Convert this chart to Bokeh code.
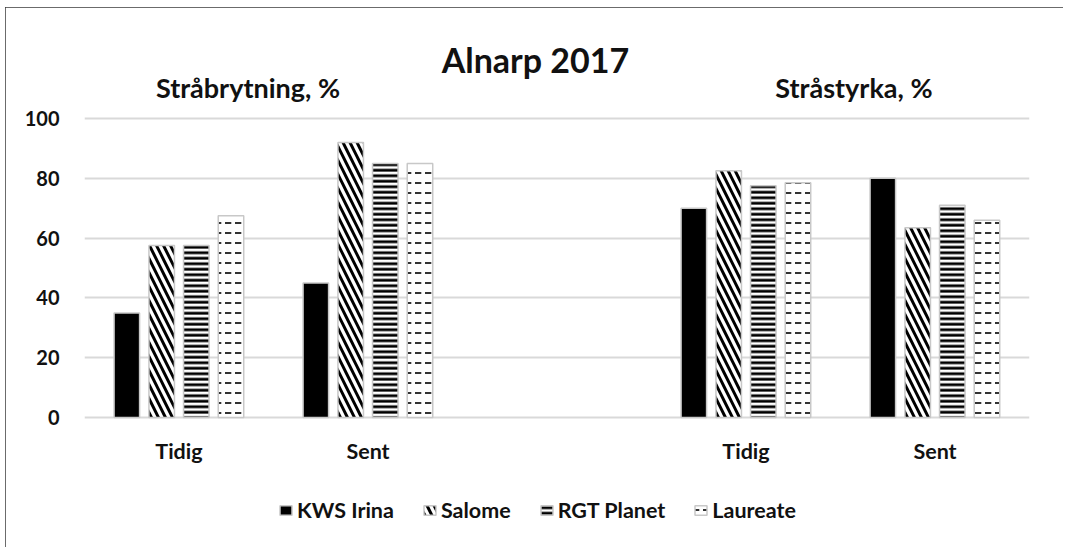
from bokeh.plotting import figure
from bokeh.models import (ColumnDataSource, FactorRange, Range1d, FixedTicker,
                          Label, Legend, LegendItem)
from bokeh.core.properties import value
from bokeh.transform import dodge
from bokeh.embed import file_html
from bokeh.resources import INLINE

# ---- data ----
chart_title = "Alnarp 2017"
traits = ["Stråbrytning, %", "Stråstyrka, %"]
timings = ["Tidig", "Sent"]
varieties = ["KWS Irina", "Salome", "RGT Planet", "Laureate"]
kws_irina = [35, 45, 70, 80]
salome = [57.5, 92, 82.5, 63.5]
rgt_planet = [57.5, 85, 77.5, 71]
laureate = [67.5, 85, 78.5, 66]
y_ticks = [0, 20, 40, 60, 80, 100]

factors = [(t, s) for t in traits for s in timings]
source = ColumnDataSource(dict(x=factors, kws=kws_irina, sal=salome,
                               rgt=rgt_planet, lau=laureate,
                               label=[s for t in traits for s in timings]))
cols = ["kws", "sal", "rgt", "lau"]

FONT = "Lato"

p = figure(x_range=FactorRange(*factors, group_padding=1.0, factor_padding=0,
                               range_padding=0),
           y_range=Range1d(-40.1, 129.1),
           width=1058, height=540,
           output_backend="svg", toolbar_location=None,
           min_border_left=79, min_border_right=34,
           min_border_top=24, min_border_bottom=10)
p.styles = {"outline": "1.5px solid #3a3a3a", "outline-offset": "-1px",
            "margin-left": "5px", "margin-top": "7px"}
p.outline_line_color = None
p.background_fill_color = "white"
p.border_fill_color = "white"

styles = [
    dict(fill_color="black"),
    dict(fill_color="white", hatch_pattern="\\", hatch_scale=14, hatch_weight=3,
         hatch_color="black"),
    dict(fill_color="white", hatch_pattern="-", hatch_scale=5.5, hatch_weight=2.8,
         hatch_color="black"),
    dict(fill_color="white", hatch_pattern='"', hatch_scale=10, hatch_weight=1.6,
         hatch_color="black"),
]
offsets = [-0.276, -0.0915, 0.0915, 0.275]

renderers = []
for col, off, st in zip(cols, offsets, styles):
    r = p.vbar(x=dodge("x", off, range=p.x_range), top=col, width=0.135,
               source=source, line_color="#c8c8c8", line_width=1.5, **st)
    renderers.append(r)

# category labels under the baseline
p.text(x="x", y=-11.1, text="label", source=source, text_align="center",
       text_baseline="alphabetic", text_font=value(FONT),
       text_font_style="bold", text_font_size="21.5px", text_color="#111111")

# axes
p.xaxis.visible = False
p.xgrid.visible = False
p.ygrid.grid_line_color = "#d9d9d9"
p.ygrid.grid_line_width = 2
p.yaxis.ticker = FixedTicker(ticks=y_ticks)
p.yaxis.major_label_text_font = FONT
p.yaxis.major_label_text_font_style = "bold"
p.yaxis.major_label_text_color = "#111111"
p.yaxis.major_tick_line_color = None
p.yaxis.minor_tick_line_color = None
p.yaxis.major_label_text_font_size = "20px"
p.yaxis.axis_line_color = None
p.yaxis.major_label_standoff = 19

# titles
p.add_layout(Label(x=2.386, y=119.7, text=chart_title, text_align="center",
                   text_baseline="alphabetic", text_font=FONT,
                   text_font_style="bold", text_font_size="34px",
                   text_color="#111111"))
p.add_layout(Label(x=0.865, y=110.4, text=traits[0], text_align="center",
                   text_baseline="alphabetic", text_font=FONT,
                   text_font_style="bold", text_font_size="27px",
                   text_color="#111111"))
p.add_layout(Label(x=4.071, y=110.4, text=traits[1], text_align="center",
                   text_baseline="alphabetic", text_font=FONT,
                   text_font_style="bold", text_font_size="27px",
                   text_color="#111111"))

legend = Legend(items=[LegendItem(label=v, renderers=[r])
                       for v, r in zip(varieties, renderers)],
                location=(194, 14), orientation="horizontal",
                glyph_width=15, glyph_height=12, label_standoff=4, spacing=28,
                padding=0, margin=0, border_line_color=None,
                background_fill_alpha=0,
                label_text_font=FONT, label_text_font_style="bold",
                label_text_font_size="21.5px", label_text_color="#111111")
p.add_layout(legend)

open("out.html", "w").write(file_html(p, INLINE))
